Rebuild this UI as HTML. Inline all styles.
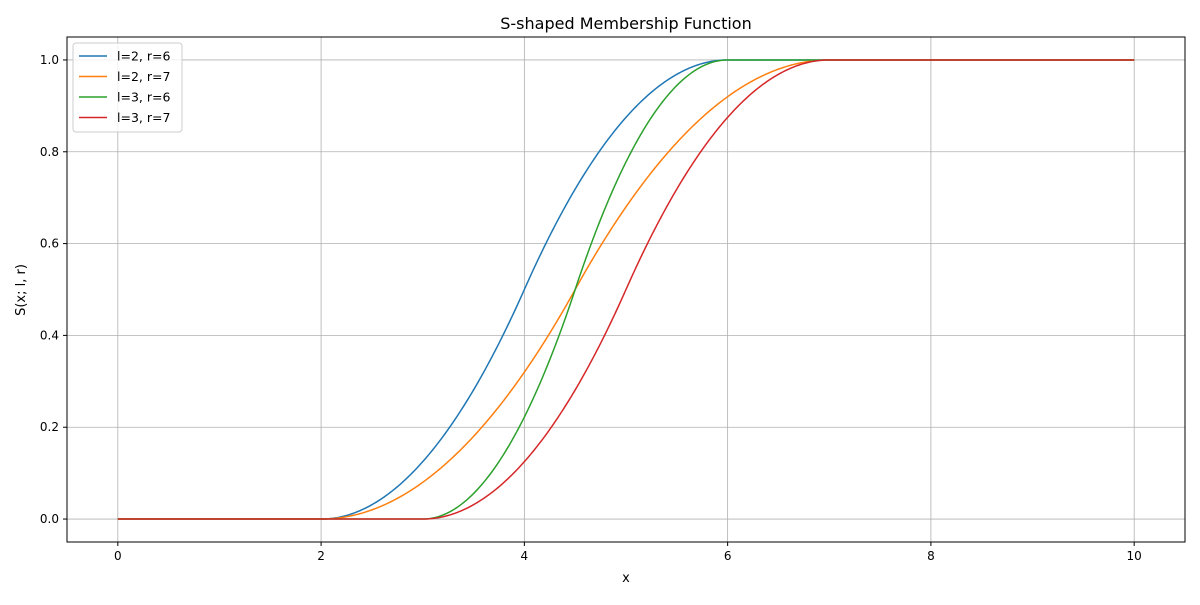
<!DOCTYPE html>
<html><head><meta charset="utf-8"><style>
body{margin:0;background:#fff}
svg text{font-family:"DejaVu Sans","Liberation Sans",sans-serif;fill:#000}
</style></head><body>
<svg id="chart" width="1200" height="600" xmlns="http://www.w3.org/2000/svg">
<rect width="1200" height="600" fill="#fff"/>
<g id="grid"></g>
<g id="series"></g>
<rect x="67" y="37" width="1118" height="505" fill="none" stroke="#000" stroke-width="1"/>
<g id="ticks"></g>
<text x="626" y="29" font-size="16" text-anchor="middle">S-shaped Membership Function</text>
<text x="626" y="582" font-size="13" text-anchor="middle">x</text>
<text x="25" y="290" font-size="13" text-anchor="middle" transform="rotate(-90 25 290)">S(x; l, r)</text>
<g id="legend"></g>
</svg>
<script>
const seriesLabels=["l=2, r=6","l=2, r=7","l=3, r=6","l=3, r=7"];
const lefts=[2,2,3,3];
const rights=[6,7,6,7];
const colors=["#1f77b4","#ff7f0e","#2ca02c","#d62728"];
const xTicks=[0,2,4,6,8,10];
const yTicks=[0.0,0.2,0.4,0.6,0.8,1.0];
const xDomain=[0,10];
const NS="http://www.w3.org/2000/svg";
const X0=67,X1=1185,Y0=37,Y1=542;
const xs=v=>X0+(v+0.5)/11*(X1-X0);
const ys=v=>Y1-(v+0.05)/1.1*(Y1-Y0);
function mk(tag,attrs,parent){const e=document.createElementNS(NS,tag);for(const k in attrs)e.setAttribute(k,attrs[k]);parent.appendChild(e);return e;}
const grid=document.getElementById('grid'),ticks=document.getElementById('ticks');
xTicks.forEach(t=>{const x=xs(t);
 const g=mk('line',{x1:x,x2:x,y1:Y0,y2:Y1,stroke:'#b0b0b0','stroke-width':0.8},grid);
 
 const tk=mk('line',{x1:x,x2:x,y1:Y1,y2:Y1+4,stroke:'#000'},ticks);
 
 const tx=mk('text',{x:x,y:Y1+18,'font-size':12,'text-anchor':'middle'},ticks);tx.textContent=t;
 });
yTicks.forEach(t=>{const y=ys(t);
 const g=mk('line',{x1:X0,x2:X1,y1:y,y2:y,stroke:'#b0b0b0','stroke-width':0.8},grid);
 
 const tk=mk('line',{x1:X0-4,x2:X0,y1:y,y2:y,stroke:'#000'},ticks);
 
 const tx=mk('text',{x:X0-8,y:y+4,'font-size':12,'text-anchor':'end'},ticks);tx.textContent=t.toFixed(1);
 });
function S(x,l,r){if(x<=l)return 0;if(x>=r)return 1;const m=(l+r)/2;
 if(x<=m)return 2*Math.pow((x-l)/(r-l),2);return 1-2*Math.pow((x-r)/(r-l),2);}
const sg=document.getElementById('series'),lg=document.getElementById('legend');
const lb=mk('rect',{x:73,y:43,width:109,height:89,rx:3,fill:'#fff','fill-opacity':0.8,stroke:'#ccc'},lg);

seriesLabels.forEach((lab,i)=>{let d='';
 for(let k=0;k<=500;k++){const x=xDomain[0]+(xDomain[1]-xDomain[0])*k/500;
  d+=(k?'L':'M')+xs(x).toFixed(2)+','+ys(S(x,lefts[i],rights[i])).toFixed(2);}
 const p=mk('path',{d:d,fill:'none',stroke:colors[i],'stroke-width':1.5},sg);
 
 const y=56+i*20.5;
 const ll=mk('line',{x1:79,x2:107,y1:y,y2:y,stroke:colors[i],'stroke-width':1.5},lg);
 
 const lt=mk('text',{x:117,y:y+4.5,'font-size':12.5},lg);lt.textContent=lab;
 });
</script>
</body></html>
